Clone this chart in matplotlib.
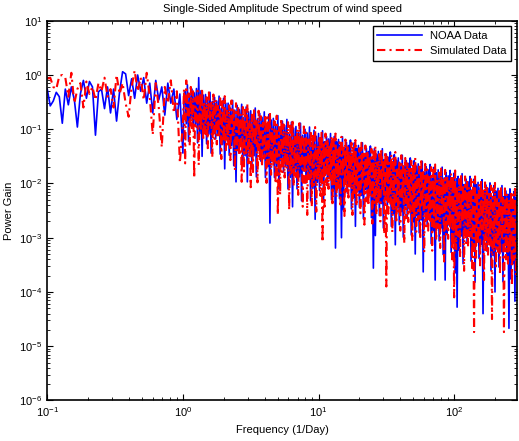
import numpy as np
import matplotlib
matplotlib.use("Agg")
import matplotlib.pyplot as plt
from matplotlib.ticker import LogLocator, NullFormatter

plt.rcParams['font.family'] = ['Liberation Sans', 'DejaVu Sans']

# frequency bins (1/Day): three bands of the spectrum
freq_low = np.geomspace(0.1, 1, 45, endpoint=False)
freq_mid = np.geomspace(1, 10, 120, endpoint=False)
freq_high = np.geomspace(10, 290, 200)

# power gain, stored as log10 values
noaa_low = [-0.26, -0.57, -0.48, -0.32, -0.40, -0.89, -0.26, -0.55, -0.22, -0.46,
            -0.96, -0.35, -0.10, -0.43, -0.12, -0.22, -1.11, -0.31, -0.26, -0.62,
            -0.22, -0.70, -0.26, -0.85, -0.31, 0.06, 0.02, -0.38, -0.07, -0.43,
            0.0, -0.30, -0.05, -0.52, -0.15, -0.70, -0.10, -0.46, -0.22, -0.74,
            -0.15, -0.52, -0.26, -0.82, -0.35]
noaa_mid = [-1.44, -0.35, -0.30, -0.90, -0.18, -1.22, -0.34, -0.82, -0.26, -0.98,
            -0.33, -0.91, -0.25, -1.25, -0.05, -1.08, -0.29, -1.50, -0.37, -1.00,
            -0.36, -1.27, -0.45, -1.09, -0.32, -1.44, -0.49, -1.01, -0.41, -1.18,
            -0.48, -1.10, -0.39, -1.46, -0.61, -1.28, -0.43, -1.73, -0.52, -1.19,
            -0.52, -1.48, -0.61, -1.30, -0.47, -1.67, -0.65, -1.97, -0.56, -1.39,
            -0.64, -1.30, -0.54, -1.68, -0.78, -1.49, -0.59, -1.97, -0.68, -1.40,
            -0.66, -1.69, -0.76, -1.49, -0.61, -1.88, -0.81, -1.39, -0.71, -1.59,
            -0.78, -1.49, -0.68, -1.89, -0.93, -1.69, -0.73, -2.73, -0.83, -1.59,
            -0.80, -1.89, -0.91, -1.69, -0.75, -2.10, -0.96, -1.58, -0.85, -1.79,
            -0.93, -1.68, -0.82, -2.10, -1.09, -1.89, -0.87, -2.43, -0.98, -1.78,
            -0.95, -2.10, -1.06, -1.88, -0.89, -2.32, -1.11, -1.77, -1.00, -1.99,
            -1.07, -1.86, -0.96, -2.32, -1.24, -2.09, -1.02, -2.66, -1.13, -1.98]
noaa_high = [-1.08, -2.13, -1.18, -1.93, -1.03, -2.33, -1.23, -1.83, -1.13, -2.03,
             -1.18, -1.90, -1.08, -2.30, -1.33, -2.10, -1.13, -3.19, -1.23, -2.00,
             -1.19, -2.28, -1.29, -3.00, -1.14, -2.49, -1.34, -1.97, -1.24, -2.18,
             -1.30, -2.05, -1.20, -2.47, -1.45, -2.26, -1.25, -2.79, -1.35, -2.15,
             -1.30, -2.44, -1.40, -2.22, -1.25, -2.65, -1.45, -2.11, -1.35, -2.33,
             -1.41, -2.19, -1.31, -2.63, -1.56, -3.56, -1.36, -2.96, -1.46, -2.30,
             -1.41, -2.59, -1.51, -2.37, -1.36, -2.82, -1.56, -2.26, -1.46, -2.48,
             -1.52, -2.33, -1.42, -2.79, -1.67, -2.56, -1.47, -3.13, -1.57, -2.45,
             -1.53, -2.76, -1.63, -2.52, -1.48, -2.99, -1.68, -2.41, -1.58, -2.64,
             -1.63, -2.47, -1.53, -2.95, -1.78, -2.71, -1.58, -3.30, -1.68, -2.59,
             -1.64, -2.91, -1.74, -2.67, -1.59, -3.63, -1.79, -2.55, -1.69, -2.79,
             -1.75, -2.63, -1.65, -3.11, -1.90, -2.87, -1.70, -3.78, -1.80, -2.75,
             -1.75, -3.06, -1.85, -2.82, -1.70, -3.31, -1.90, -3.78, -1.80, -2.94,
             -1.86, -2.77, -1.76, -3.27, -2.01, -3.02, -1.81, -3.65, -1.91, -4.28,
             -1.87, -3.23, -1.97, -2.97, -1.82, -3.48, -2.02, -2.84, -1.92, -3.10,
             -1.97, -2.91, -1.87, -3.43, -2.12, -3.17, -1.92, -3.82, -2.02, -3.04,
             -1.98, -3.38, -2.08, -3.12, -1.93, -4.40, -2.13, -2.99, -2.03, -3.25,
             -2.09, -3.06, -1.99, -3.60, -2.24, -3.33, -2.04, -4.00, -2.14, -3.20,
             -2.09, -3.54, -2.19, -3.26, -2.04, -3.81, -2.24, -3.13, -2.14, -3.40,
             -2.20, -4.67, -2.10, -3.76, -2.35, -3.48, -2.15, -4.17, -2.25, -3.34]

sim_low = [-0.07, -0.05, -0.22, -0.26, -0.02, 0.0, -0.05, -0.40, 0.04, -0.52,
           -0.26, -0.15, -0.60, -0.12, -0.35, -0.22, -0.46, -0.15, -0.30, -0.05,
           -0.40, -0.26, -0.60, 0.0, -0.35, -0.15, -0.52, -0.77, -0.22, 0.08,
           -0.30, -0.05, -0.46, 0.04, -0.40, -1.10, -0.15, -0.60, -1.33, -0.22,
           -0.52, -0.10, -0.70, -0.30, -1.62]
sim_mid = [-0.90, -0.26, -1.63, -0.10, -0.74, -0.34, -1.30, -0.22, -0.98, -0.30,
           -1.90, -0.42, -0.96, -0.29, -1.66, -0.33, -1.04, -0.25, -1.20, -0.50,
           -1.09, -0.41, -1.35, -0.32, -0.92, -0.49, -1.52, -0.36, -1.18, -0.45,
           -1.28, -0.57, -1.15, -0.43, -1.55, -0.48, -1.24, -0.39, -1.41, -0.66,
           -1.30, -0.56, -1.57, -0.47, -1.11, -0.65, -1.76, -0.52, -1.39, -0.61,
           -1.49, -0.73, -1.97, -0.59, -1.78, -0.64, -1.44, -0.54, -1.63, -0.83,
           -2.07, -0.71, -1.79, -0.61, -1.30, -0.81, -1.98, -0.66, -1.59, -0.76,
           -1.69, -0.88, -1.54, -0.73, -1.99, -0.78, -1.64, -0.68, -1.84, -0.98,
           -1.69, -0.85, -2.00, -0.75, -2.58, -0.96, -2.21, -0.80, -1.79, -0.91,
           -1.89, -1.03, -1.73, -0.87, -2.49, -0.93, -1.84, -0.82, -2.05, -1.14,
           -1.88, -1.00, -2.21, -0.89, -1.66, -1.11, -2.43, -0.95, -1.99, -1.06,
           -2.58, -1.19, -1.92, -1.02, -2.43, -1.07, -2.03, -0.96, -2.52, -1.30]
sim_high = [-1.93, -1.13, -2.23, -1.03, -3.08, -1.23, -2.43, -1.08, -2.03, -1.18,
            -2.10, -1.28, -1.95, -1.13, -2.41, -1.18, -2.05, -1.08, -2.25, -1.38,
            -2.08, -1.24, -2.39, -1.14, -1.87, -1.34, -2.60, -1.19, -2.18, -1.29,
            -2.26, -1.40, -2.10, -1.25, -2.58, -1.30, -2.21, -1.20, -2.42, -1.50,
            -2.22, -1.35, -2.55, -1.25, -2.01, -1.45, -2.76, -1.30, -2.33, -1.40,
            -2.41, -1.51, -2.25, -1.36, -2.74, -1.41, -2.36, -1.31, -2.58, -1.61,
            -2.37, -1.46, -2.70, -1.36, -2.14, -1.56, -2.93, -1.41, -3.90, -1.51,
            -2.56, -1.62, -2.39, -1.47, -2.90, -1.52, -2.50, -1.42, -2.73, -1.72,
            -2.52, -1.58, -2.87, -1.48, -2.29, -1.68, -3.10, -1.53, -2.64, -1.63,
            -2.71, -1.73, -2.53, -1.58, -3.06, -1.63, -2.65, -1.53, -2.89, -1.83,
            -2.67, -1.69, -3.03, -1.59, -2.43, -1.79, -3.27, -1.64, -2.79, -1.74,
            -2.87, -1.85, -2.69, -1.70, -3.24, -1.75, -2.81, -1.65, -3.05, -1.95,
            -2.82, -1.80, -3.19, -1.70, -2.57, -1.90, -3.44, -1.75, -2.94, -1.85,
            -3.02, -1.96, -2.83, -1.81, -3.40, -1.86, -4.10, -1.76, -3.21, -2.06,
            -2.97, -1.92, -3.36, -1.82, -2.72, -2.02, -3.61, -1.87, -3.10, -1.97,
            -3.17, -2.07, -2.98, -1.92, -3.56, -1.97, -4.74, -1.87, -3.37, -2.17,
            -3.12, -2.03, -3.51, -1.93, -2.85, -2.13, -3.78, -1.98, -3.25, -2.08,
            -3.33, -2.19, -3.13, -2.04, -4.50, -2.09, -3.26, -1.99, -3.53, -2.29,
            -3.26, -2.14, -3.67, -2.04, -2.99, -2.24, -4.74, -2.09, -3.40, -2.19,
            -3.48, -2.30, -3.27, -2.15, -3.89, -2.20, -3.41, -2.10, -3.69, -2.40]

freq = np.concatenate([freq_low, freq_mid, freq_high])
noaa = 10.0 ** np.array(noaa_low + noaa_mid + noaa_high)
sim = 10.0 ** np.array(sim_low + sim_mid + sim_high)

fig = plt.figure(figsize=(5.19, 4.41), dpi=100)
ax = fig.add_axes([0.091, 0.092, 0.905, 0.861])

ax.loglog(freq, noaa, color='#0000ff', lw=1.2, label='NOAA Data')
ax.loglog(freq, sim, color='#ff0000', lw=1.5, linestyle=(0, (4, 2, 1, 2)),
          label='Simulated Data')

ax.set_xlim(0.1, 290)
ax.set_ylim(1e-6, 10)
ax.set_xlabel('Frequency (1/Day)', fontsize=8)
ax.set_ylabel('Power Gain', fontsize=8)
ax.set_title('Single-Sided Amplitude Spectrum of wind speed', fontsize=8, pad=6)

ax.yaxis.set_major_locator(LogLocator(base=10, numticks=10))
ax.yaxis.set_minor_locator(LogLocator(base=10, subs=np.arange(2, 10), numticks=20))
ax.yaxis.set_minor_formatter(NullFormatter())
ax.xaxis.set_minor_locator(LogLocator(base=10, subs=np.arange(2, 10), numticks=20))
ax.xaxis.set_minor_formatter(NullFormatter())
ax.tick_params(which='both', direction='in', top=True, right=True, labelsize=8)
ax.tick_params(which='major', length=4)
ax.tick_params(which='minor', length=2)
for sp in ax.spines.values():
    sp.set_linewidth(1.2)

leg = ax.legend(loc='upper right', fontsize=8, fancybox=False, framealpha=1,
                edgecolor='black', borderaxespad=0.5, handlelength=4)
leg.get_frame().set_linewidth(1.0)

fig.savefig('out.png', dpi=100)
